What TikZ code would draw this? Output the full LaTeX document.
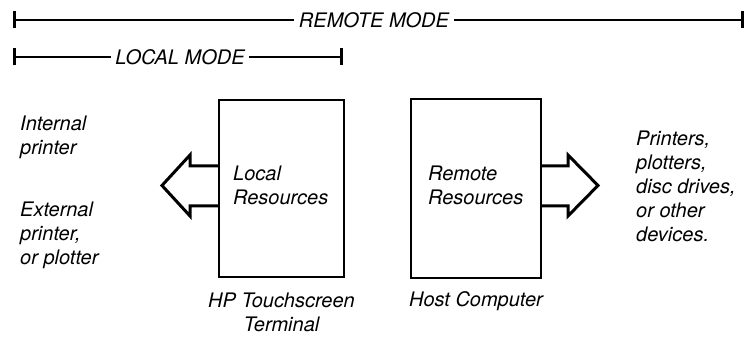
\documentclass[tikz,border=0pt]{standalone}
\usepackage{fontspec}
\setmainfont{TeX Gyre Heros}
\usetikzlibrary{arrows.meta,positioning}

\begin{document}
\begin{tikzpicture}[x=1pt,y=1pt,
    lbl/.style={font=\fontsize{20}{24}\selectfont\itshape, inner sep=0pt, align=left},
    unit/.style={draw, line width=2.4pt, inner sep=0pt},
    span/.style={line width=1.8pt},
    endbar/.style={{Bar[width=17pt,line width=2.6pt]}-},
    hollow/.style={line width=3pt, line join=miter}]
  \useasboundingbox (0,0) rectangle (753,339);

  % Modo remoto
  \coordinate (remL) at (13,319);
  \coordinate (remR) at (744,319);
  \node[lbl, inner xsep=5pt] (remote) at (374,319) {REMOTE MODE};
  \draw[span, endbar] (remL) -- (remote);
  \draw[span, endbar] (remR) -- (remote);

  % Modo local
  \coordinate (locL) at (13,282);
  \coordinate (locR) at (343,282);
  \node[lbl, inner xsep=4pt] (local) at (180,282) {LOCAL MODE};
  \draw[span, endbar] (locL) -- (local);
  \draw[span, endbar] (locR) -- (local);

  % Terminal
  \node[unit, minimum width=125pt, minimum height=177pt] (term) at (281.5,150.5) {};
  \node[lbl, anchor=north west] (termres) at (233,173.4) {Local\\Resources};
  \node[lbl, align=center, below=15pt of term] (termname) {HP Touchscreen\\Terminal};

  % Computador anfitrion
  \node[unit, minimum width=130pt, minimum height=179pt] (host) at (476,150.5) {};
  \node[lbl, anchor=north west] (hostres) at (428,173.4) {Remote\\Resources};
  \node[lbl, align=center, below=12pt of host] (hostname) {Host Computer};

  % Flecha local
  \coordinate (ltip) at (162,153.5);
  \draw[hollow] (term.west |- 0,173) -- (190,173) -- (190,184) -- (ltip)
    -- (190,123) -- (190,133) -- (term.west |- 0,133);

  % Flecha remota
  \coordinate (rtip) at (598,153.5);
  \draw[hollow] (host.east |- 0,173) -- (568,173) -- (568,184) -- (rtip)
    -- (568,123) -- (568,133) -- (host.east |- 0,133);

  % Dispositivos
  \node[lbl, anchor=north west] (intprn) at (20,223.4) {Internal\\printer};
  \node[lbl, anchor=north west] (extprn) at (20,137.4) {External\\printer,\\or plotter};
  \node[lbl, anchor=north west] (devs) at (636,208.4) {Printers,\\plotters,\\disc drives,\\or other\\devices.};
\end{tikzpicture}
\end{document}
